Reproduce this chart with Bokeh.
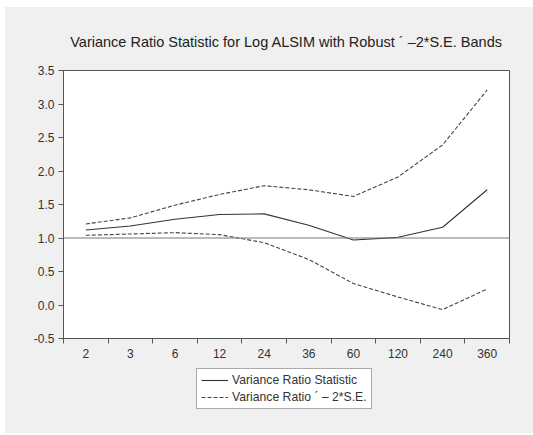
from bokeh.plotting import figure
from bokeh.layouts import column
from bokeh.models import Legend, LegendItem, Span, FixedTicker, ColumnDataSource
from bokeh.embed import file_html
from bokeh.resources import INLINE

# Lag horizons and variance-ratio estimates
horizons = ["2", "3", "6", "12", "24", "36", "60", "120", "240", "360"]
vr_stat = [1.12, 1.18, 1.28, 1.35, 1.36, 1.19, 0.97, 1.01, 1.16, 1.72]
upper_band = [1.21, 1.30, 1.49, 1.65, 1.78, 1.72, 1.62, 1.91, 2.39, 3.21]
lower_band = [1.04, 1.06, 1.08, 1.05, 0.93, 0.68, 0.32, 0.12, -0.07, 0.24]
y_ticks = [-0.5, 0.0, 0.5, 1.0, 1.5, 2.0, 2.5, 3.0, 3.5]
legend_labels = ["Variance Ratio Statistic", "Variance Ratio \u00b4 \u2013 2*S.E."]

FONT = "Liberation Sans"
INK = "#333333"
DASH_INK = "#444444"
BG = "#f0f0f0"

# each horizon sits in the middle of its own slot
xpos = [i + 0.5 for i in range(len(horizons))]
src = ColumnDataSource(dict(x=xpos, vr=vr_stat, up=upper_band, lo=lower_band))

p = figure(width=528, frame_width=446, frame_height=268, output_backend="svg",
           toolbar_location=None,
           x_range=(0, len(horizons)), y_range=(y_ticks[0], y_ticks[-1]),
           min_border_left=58, min_border_right=24, min_border_top=63,
           min_border_bottom=27)
p.background_fill_color = "white"
p.border_fill_color = BG
p.outline_line_color = "#555555"
p.outline_line_width = 1
p.grid.visible = False

p.title.text = "Variance Ratio Statistic for Log ALSIM with Robust \u00b4 \u20132*S.E. Bands"
p.title.align = "center"
p.title.text_font = FONT
p.title.text_font_style = "normal"
p.title.text_font_size = "14.5px"
p.title.text_color = "#222222"
p.title.standoff = 42
p.title.offset = -4

# x axis: labels at slot centres, tick marks at slot boundaries
xa = p.xaxis[0]
xa.ticker = FixedTicker(ticks=xpos, minor_ticks=list(range(len(horizons) + 1)))
xa.major_label_overrides = {x: h for x, h in zip(xpos, horizons)}
xa.major_tick_line_color = None
xa.minor_tick_line_color = "#555555"
xa.minor_tick_in = 0
xa.minor_tick_out = 5
ya = p.yaxis[0]
ya.ticker = FixedTicker(ticks=y_ticks)
ya.major_label_overrides = {t: f"{t:.1f}" for t in y_ticks}
ya.major_tick_line_color = "#555555"
ya.major_tick_in = 0
ya.major_tick_out = 5
ya.minor_tick_line_color = None
for ax in (xa, ya):
    ax.axis_line_color = "#555555"
    ax.major_label_text_font = FONT
    ax.major_label_text_font_size = "12px"
    ax.major_label_text_color = INK
    ax.major_label_standoff = 4

p.add_layout(Span(location=1.0, dimension="width", line_color="#777777", line_width=1))

p.line("x", "vr", source=src, line_color=INK, line_width=1.1)
p.line("x", "up", source=src, line_color=DASH_INK, line_width=1.1, line_dash="4 2")
p.line("x", "lo", source=src, line_color=DASH_INK, line_width=1.1, line_dash="4 2")

# strip under the chart that carries the legend box
leg_fig = figure(width=528, height=68, output_backend="svg", toolbar_location=None,
                 x_range=(0, 1), y_range=(0, 1), min_border=0)
leg_fig.axis.visible = False
leg_fig.grid.visible = False
leg_fig.outline_line_color = None
leg_fig.background_fill_color = None
leg_fig.border_fill_color = BG
# key samples kept outside the visible range; only their legend swatches show
key_solid = leg_fig.line(x=[-5, -4], y=[-5, -4], line_color=INK, line_width=1.1)
key_dash = leg_fig.line(x=[-5, -4], y=[-5, -4], line_color=DASH_INK, line_width=1.1,
                        line_dash="4 2")

legend = Legend(items=[LegendItem(label=legend_labels[0], renderers=[key_solid]),
                       LegendItem(label=legend_labels[1], renderers=[key_dash])],
                location=(133, 24), orientation="vertical",
                border_line_color="#555555", background_fill_color="white",
                label_text_font=FONT, label_text_font_size="12.2px",
                label_text_color=INK, glyph_width=27, glyph_height=14,
                label_height=14, spacing=3, padding=4, margin=0, label_standoff=4)
leg_fig.add_layout(legend, "center")

page = column(p, leg_fig, spacing=0, styles={"background-color": BG})
page.margin = (7, 0, 2, 5)

open("out.html", "w").write(file_html(page, INLINE))
